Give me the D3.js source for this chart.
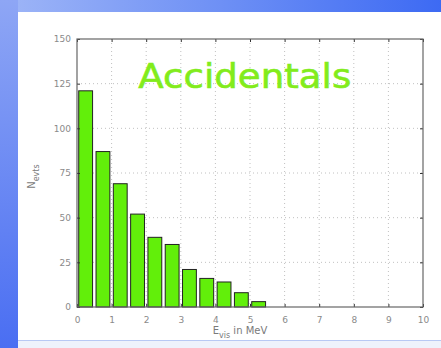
<!DOCTYPE html>
<html><head><meta charset="utf-8">
<script src="https://cdn.jsdelivr.net/npm/d3@7"></script>
<style>html,body{margin:0;padding:0;background:#fff;}svg{display:block;}</style>
</head><body>
<svg id="c" width="441" height="348"></svg>
<script>
const binCenters = [0.25,0.75,1.25,1.75,2.25,2.75,3.25,3.75,4.25,4.75,5.25];
const counts = [121,87,69,52,39,35,21,16,14,8,3];
const xTicks = [0,1,2,3,4,5,6,7,8,9,10];
const yTicks = [0,25,50,75,100,125,150];
const title = "Accidentals";

const svg = d3.select("#c");
const defs = svg.append("defs");
const gTop = defs.append("linearGradient").attr("id","gt").attr("x1","0").attr("x2","1").attr("y1","0").attr("y2","0");
gTop.append("stop").attr("offset","0").attr("stop-color","#9fb6f7");
gTop.append("stop").attr("offset","1").attr("stop-color","#3d6af3");
const gLeft = defs.append("linearGradient").attr("id","gl").attr("x1","0").attr("x2","0").attr("y1","0").attr("y2","1");
gLeft.append("stop").attr("offset","0").attr("stop-color","#8ea6f5");
gLeft.append("stop").attr("offset","1").attr("stop-color","#4a6ef2");

svg.append("rect").attr("x",0).attr("y",0).attr("width",441).attr("height",348).attr("fill","#ffffff");
svg.append("rect").attr("x",0).attr("y",0).attr("width",441).attr("height",12).attr("fill","url(#gt)");
svg.append("rect").attr("x",0).attr("y",0).attr("width",18).attr("height",348).attr("fill","url(#gl)");
svg.append("rect").attr("x",18).attr("y",340).attr("width",423).attr("height",8).attr("fill","#eef2fc");
svg.append("line").attr("x1",18).attr("x2",441).attr("y1",340.5).attr("y2",340.5).attr("stroke","#b8c8f4").attr("stroke-width",1);

const L=77, R=423, T=39, B=307;
const x = d3.scaleLinear().domain([0,10]).range([L,R]);
const y = d3.scaleLinear().domain([0,150]).range([B,T]);

// grid
const grid = svg.append("g");
grid.selectAll(".gx").data(xTicks.slice(1,-1)).enter().append("line")
  .attr("x1",d=>x(d)).attr("x2",d=>x(d)).attr("y1",T).attr("y2",B)
  .attr("stroke","#b0b0b0").attr("stroke-width",0.8).attr("stroke-dasharray","1,3");
grid.selectAll(".gy").data(yTicks.slice(1,-1)).enter().append("line")
  .attr("y1",d=>y(d)).attr("y2",d=>y(d)).attr("x1",L).attr("x2",R)
  .attr("stroke","#b0b0b0").attr("stroke-width",0.8).attr("stroke-dasharray","1,3");

// title
svg.append("text").attr("x",x(4.85)).attr("y",88).attr("text-anchor","middle")
  .attr("font-family","'Comic Sans MS','DejaVu Sans',sans-serif").attr("font-size",33)
  .attr("textLength",213).attr("lengthAdjust","spacingAndGlyphs")
  .attr("fill","#82ec1c").attr("stroke","#82ec1c").attr("stroke-width",0.6).text(title);

// bars
const bw = 0.4;
svg.append("g").selectAll("rect").data(counts).enter().append("rect")
  .attr("x",(d,i)=>x(binCenters[i]-bw/2)).attr("width",(d,i)=>x(binCenters[i]+bw/2)-x(binCenters[i]-bw/2))
  .attr("y",d=>y(d)).attr("height",d=>B-y(d))
  .attr("fill","#62ef0a").attr("stroke","#222").attr("stroke-width",1);

// axes
const tickStyle = g=>{g.select(".domain").remove();g.selectAll(".tick line").attr("stroke","#333");
  g.selectAll(".tick text").attr("fill","#8a8a8a").attr("font-family","'DejaVu Sans',sans-serif").attr("font-size",9);};
svg.append("g").attr("transform",`translate(0,${B})`).call(d3.axisBottom(x).tickValues(xTicks).tickSizeInner(-3).tickSizeOuter(0).tickPadding(10)).call(tickStyle);
svg.append("g").attr("transform",`translate(0,${T})`).call(d3.axisTop(x).tickValues(xTicks).tickSizeInner(-3).tickSizeOuter(0).tickFormat("")).call(tickStyle);
svg.append("g").attr("transform",`translate(${L},0)`).call(d3.axisLeft(y).tickValues(yTicks).tickSizeInner(-3).tickSizeOuter(0).tickPadding(6)).call(tickStyle);
svg.append("g").attr("transform",`translate(${R},0)`).call(d3.axisRight(y).tickValues(yTicks).tickSizeInner(-3).tickSizeOuter(0).tickFormat("")).call(tickStyle);

svg.append("rect").attr("x",L).attr("y",T).attr("width",R-L).attr("height",B-T)
  .attr("fill","none").attr("stroke","#666").attr("stroke-width",1.2);

// axis labels
const xl = svg.append("text").attr("x",x(5)-10).attr("y",334).attr("text-anchor","middle")
  .attr("font-family","'DejaVu Sans',sans-serif").attr("font-size",10).attr("fill","#7a7a7a");
xl.append("tspan").text("E");
xl.append("tspan").attr("font-size",8).attr("dy",4).text("vis");
xl.append("tspan").attr("dy",-4).text(" in MeV");

const yl = svg.append("text").attr("transform",`translate(35,${y(73)}) rotate(-90)`).attr("text-anchor","middle")
  .attr("font-family","'DejaVu Sans',sans-serif").attr("font-size",10).attr("fill","#7a7a7a");
yl.append("tspan").text("N");
yl.append("tspan").attr("font-size",8).attr("dy",4).text("evts");
</script>
</body></html>
